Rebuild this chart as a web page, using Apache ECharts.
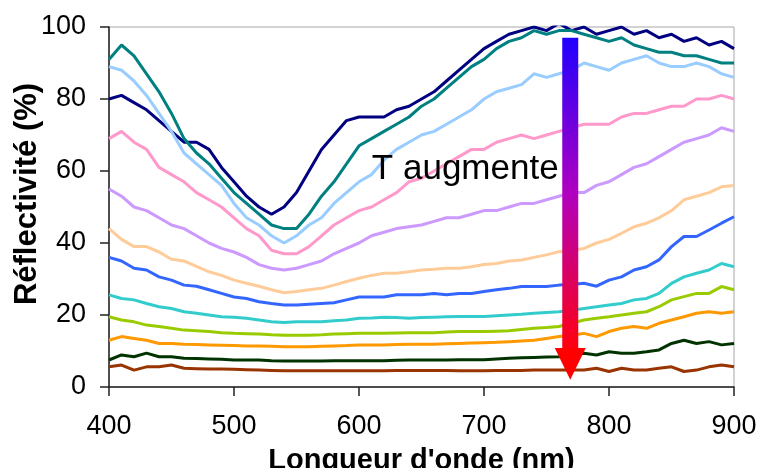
<!DOCTYPE html>
<html>
<head>
<meta charset="utf-8">
<script src="https://cdn.jsdelivr.net/npm/echarts@6/dist/echarts.min.js"></script>
<style>
  html, body { margin: 0; padding: 0; background: #fff; }
  #chart { width: 761px; height: 468px; }
</style>
</head>
<body>
<div id="chart"></div>
<script>
// longueurs d'onde (nm), pas de 10 nm
const wavelengths = [400, 410, 420, 430, 440, 450, 460, 470, 480, 490,
  500, 510, 520, 530, 540, 550, 560, 570, 580, 590,
  600, 610, 620, 630, 640, 650, 660, 670, 680, 690,
  700, 710, 720, 730, 740, 750, 760, 770, 780, 790,
  800, 810, 820, 830, 840, 850, 860, 870, 880, 890, 900];

// réflectivité (%), de la plus haute à la plus basse
const navy = [80, 81, 79, 77, 74, 71, 68, 68, 66, 61, 57, 53, 50, 48, 50, 54, 60, 66, 70, 74,
  75, 75, 75, 77, 78, 80, 82, 85, 88, 91, 94, 96, 98, 99, 100, 99, 101, 99, 100, 98,
  99, 100, 98, 99, 97, 98, 96, 97, 95, 96, 94];
const teal = [91, 95, 92, 87, 82, 76, 69, 65, 62, 58, 54, 51, 48, 45, 44, 44, 48, 53, 57, 62,
  67, 69, 71, 73, 75, 78, 80, 83, 86, 89, 91, 94, 96, 97, 99, 98, 99, 99, 98, 97,
  96, 97, 95, 94, 93, 93, 92, 92, 91, 90, 90];
const lightBlue = [89, 88, 85, 81, 76, 71, 65, 62, 59, 56, 51, 47, 45, 42, 40, 42, 45, 47, 51, 54,
  57, 59, 63, 66, 68, 70, 71, 73, 75, 77, 80, 82, 83, 84, 87, 86, 87, 88, 90, 89,
  88, 90, 91, 92, 90, 89, 89, 90, 89, 87, 86];
const pink = [69, 71, 68, 66, 61, 59, 57, 54, 52, 50, 47, 44, 42, 38, 37, 37, 39, 42, 45, 47,
  49, 50, 52, 54, 57, 58, 60, 62, 64, 66, 66, 68, 69, 70, 69, 70, 71, 72, 73, 73,
  73, 75, 76, 76, 77, 78, 78, 80, 80, 81, 80];
const lavender = [55, 53, 50, 49, 47, 45, 44, 42, 40, 38.5, 37.5, 36, 34, 33, 32.5, 33, 34, 35, 37, 38.5,
  40, 42, 43, 44, 44.5, 45, 46, 47, 47, 48, 49, 49, 50, 51, 51, 52, 53, 54, 54, 56,
  57, 59, 61, 62, 64, 66, 68, 69, 70, 72, 71];
const peach = [44, 41, 39, 39, 37.5, 35.5, 35, 33.5, 32, 31, 29.7, 28.8, 28, 27, 26.2, 26.5, 27, 27.4, 28.3, 29.3,
  30.2, 31, 31.6, 31.6, 32, 32.5, 32.7, 33, 33, 33.4, 34, 34.3, 35, 35.3, 36, 36.7, 37.6, 38, 38.5, 40,
  41, 42.7, 44.5, 45.5, 47, 49, 52, 53, 54, 55.6, 56];
const blue = [36, 35, 33, 32.5, 30.6, 29.7, 28.3, 28, 27, 26, 25, 24.6, 23.7, 23.2, 22.8, 22.8, 23, 23.2, 23.4, 24.2,
  25, 25, 25, 25.6, 25.6, 25.6, 26, 25.6, 26, 26, 26.5, 27, 27.4, 27.9, 27.9, 27.9, 28.3, 28.5, 28.8, 28,
  29.7, 30.6, 32.5, 33.4, 35.3, 39, 41.8, 41.8, 43.6, 45.5, 47.3];
const turquoise = [25.6, 24.6, 24.2, 23.2, 22.3, 21.8, 20.9, 20.5, 20, 19.5, 19.4, 19.1, 18.6, 18.1, 17.9, 18.1, 18.1, 18.1, 18.4, 18.6,
  19.1, 19.2, 19.4, 19.3, 19.1, 19.3, 19.4, 19.5, 19.6, 19.6, 19.6, 19.8, 20, 20.2, 20.5, 20.7, 20.9, 21.3, 21.8, 22.3,
  22.8, 23.2, 24.2, 24.6, 26, 28.8, 30.6, 31.6, 32.5, 34.3, 33.4];
const yellowGreen = [19.5, 18.6, 18.1, 17.2, 16.8, 16.3, 15.8, 15.6, 15.4, 15.1, 14.9, 14.8, 14.7, 14.5, 14.4, 14.4, 14.4, 14.5, 14.7, 14.8,
  14.9, 14.9, 14.9, 15, 15.1, 15.1, 15.1, 15.3, 15.4, 15.4, 15.4, 15.5, 15.6, 16, 16.3, 16.5, 16.8, 17.7, 18.6, 19.1,
  19.5, 20, 20.5, 20.9, 22.3, 24.2, 25.1, 26, 26, 27.9, 27];
const orange = [13, 14, 13.5, 13, 12.1, 12.1, 11.9, 11.8, 11.7, 11.6, 11.5, 11.4, 11.4, 11.3, 11.2, 11.2, 11.2, 11.3, 11.4, 11.5,
  11.7, 11.7, 11.7, 11.8, 11.9, 11.9, 11.9, 12, 12.1, 12.2, 12.3, 12.4, 12.6, 12.8, 13, 13.5, 14, 14.4, 14.9, 14,
  15.4, 16.3, 16.8, 16.3, 17.7, 18.6, 19.5, 20.5, 20.9, 20.5, 20.9];
const darkGreen = [7.5, 8.9, 8.4, 9.4, 8.4, 8.4, 8, 7.9, 7.8, 7.7, 7.5, 7.5, 7.5, 7.3, 7.2, 7.2, 7.2, 7.2, 7.3, 7.3,
  7.3, 7.3, 7.3, 7.4, 7.5, 7.5, 7.5, 7.5, 7.6, 7.6, 7.6, 7.8, 8, 8.1, 8.2, 8.3, 8.4, 8.9, 9.4, 8.9,
  9.8, 9.4, 9.4, 9.8, 10.3, 12.1, 13, 12.1, 12.6, 11.7, 12.1];
const brown = [5.6, 6.1, 4.7, 5.6, 5.6, 6.1, 5.2, 5.1, 5, 5, 4.9, 4.8, 4.7, 4.6, 4.5, 4.5, 4.5, 4.5, 4.5, 4.5,
  4.5, 4.5, 4.5, 4.6, 4.6, 4.6, 4.6, 4.6, 4.5, 4.5, 4.5, 4.6, 4.6, 4.6, 4.7, 4.7, 4.7, 4.7, 4.7, 5.2,
  4.3, 5.2, 4.7, 4.7, 5.2, 5.6, 4.3, 4.7, 5.6, 6.1, 5.6];

const curves = [
  { values: navy, color: '#000080' },
  { values: teal, color: '#008080' },
  { values: lightBlue, color: '#99ccff' },
  { values: pink, color: '#ff99cc' },
  { values: lavender, color: '#cc99ff' },
  { values: peach, color: '#ffcc99' },
  { values: blue, color: '#3366ff' },
  { values: turquoise, color: '#33cccc' },
  { values: yellowGreen, color: '#99cc00' },
  { values: orange, color: '#ff9900' },
  { values: darkGreen, color: '#003300' },
  { values: brown, color: '#993300' },
];

// flèche et texte d'annotation (en unités des axes)
const arrowWavelength = 769;
const arrowTopValue = 97;
const arrowHeadValue = 10.8;
const arrowTipValue = 2;
const noteText = 'T augmente';
const notePos = [685, 60.5];

const font = 'Liberation Sans, Arial, sans-serif';
const chart = echarts.init(document.getElementById('chart'));

chart.setOption({
  animation: false,
  grid: {
    left: 109, right: 27, top: 27, bottom: 81,
    outerBoundsMode: 'none', containLabel: false,
    show: true, borderColor: '#a6a6a6', borderWidth: 1,
  },
  xAxis: {
    type: 'value', min: 400, max: 900, interval: 100,
    name: "Longueur d'onde (nm)", nameLocation: 'middle', nameGap: 59, nameMoveOverlap: false,
    nameTextStyle: { fontFamily: font, fontSize: 29, fontWeight: 'bold', color: '#000' },
    axisLine: { lineStyle: { color: '#222', width: 1.5 } },
    axisTick: { length: 9, lineStyle: { color: '#222', width: 1.5 } },
    axisLabel: { margin: 26, fontFamily: font, fontSize: 27, color: '#000' },
    splitLine: { show: false },
  },
  yAxis: {
    type: 'value', min: 0, max: 100, interval: 20,
    name: 'Réflectivité (%)', nameLocation: 'middle', nameGap: 66, nameMoveOverlap: false,
    nameTextStyle: { fontFamily: font, fontSize: 31, fontWeight: 'bold', color: '#000', padding: [0, 0, 0, 26] },
    axisLine: { lineStyle: { color: '#222', width: 1.5 } },
    axisTick: { length: 9, lineStyle: { color: '#222', width: 1.5 } },
    axisLabel: { margin: 23, fontFamily: font, fontSize: 27, color: '#000' },
    splitLine: { show: false },
  },
  series: curves.map(c => ({
    type: 'line',
    data: wavelengths.map((w, i) => [w, c.values[i]]),
    showSymbol: false,
    clip: true,
    lineStyle: { color: c.color, width: 3 },
    itemStyle: { color: c.color },
  })),
});

// annotations placées via les échelles du graphique
const arrowTop = chart.convertToPixel({ gridIndex: 0 }, [arrowWavelength, arrowTopValue]);
const arrowHead = chart.convertToPixel({ gridIndex: 0 }, [arrowWavelength, arrowHeadValue]);
const arrowTip = chart.convertToPixel({ gridIndex: 0 }, [arrowWavelength, arrowTipValue]);
const notePx = chart.convertToPixel({ gridIndex: 0 }, notePos);

chart.setOption({
  graphic: [
    {
      type: 'rect', z: 100,
      shape: { x: arrowTop[0] - 8, y: arrowTop[1], width: 16, height: arrowHead[1] - arrowTop[1] },
      style: {
        fill: new echarts.graphic.LinearGradient(0, 0, 0, 1, [
          { offset: 0, color: '#2000ff' },
          { offset: 0.5, color: '#b000c0' },
          { offset: 1, color: '#ff0010' },
        ]),
      },
    },
    {
      type: 'polygon', z: 100,
      shape: { points: [[arrowHead[0] - 15.5, arrowHead[1]], [arrowHead[0] + 15.5, arrowHead[1]], [arrowTip[0], arrowTip[1]]] },
      style: { fill: '#ff0000' },
    },
    {
      type: 'text', z: 100,
      x: notePx[0], y: notePx[1],
      style: {
        text: noteText, fontFamily: font, fontSize: 35, fill: '#000',
        align: 'center', verticalAlign: 'middle',
      },
    },
  ],
});
</script>
</body>
</html>
